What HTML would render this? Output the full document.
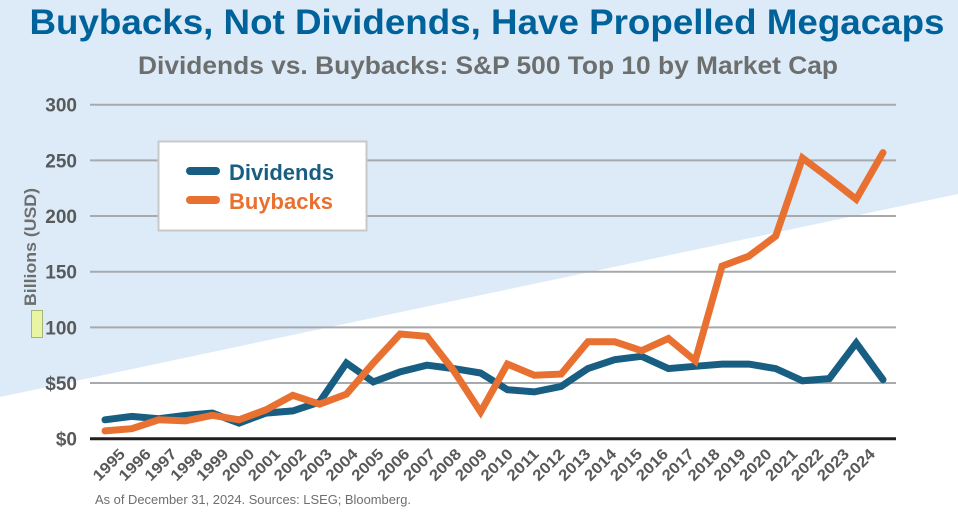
<!DOCTYPE html>
<html><head><meta charset="utf-8"><style>
html,body{margin:0;padding:0;background:#fff;}
svg{display:block;font-family:"Liberation Sans",sans-serif;}
</style></head><body>
<svg id="chart" width="958" height="513" viewBox="0 0 958 513">
<rect x="0" y="0" width="958" height="513" fill="#ffffff"/>
<polygon points="0,0 958,0 958,194 0,397" fill="#ddebf8"/>
<text x="487" y="34" text-anchor="middle" font-size="35" font-weight="bold" fill="#00629a" textLength="915" lengthAdjust="spacingAndGlyphs">Buybacks, Not Dividends, Have Propelled Megacaps</text>
<text x="488" y="74" text-anchor="middle" font-size="25" font-weight="bold" fill="#6d6e6e" textLength="700" lengthAdjust="spacingAndGlyphs">Dividends vs. Buybacks: S&amp;P 500 Top 10 by Market Cap</text>
<g id="grid"></g>
<g id="yticks"></g>
<text transform="translate(36,247) rotate(-90)" text-anchor="middle" font-size="17" font-weight="bold" fill="#6d6e6e" textLength="118" lengthAdjust="spacingAndGlyphs">Billions (USD)</text>
<rect x="31.5" y="310.5" width="11" height="27" fill="#e8f5a3" stroke="#a9b47a" stroke-width="1"/>
<g id="xticks"></g>
<g id="series"></g>
<g>
<rect x="158.5" y="141.5" width="208" height="89" fill="#fff" stroke="#c8c8c8" stroke-width="2"/>
<line x1="190" y1="171" x2="216" y2="171" stroke="#175e82" stroke-width="8" stroke-linecap="round"/>
<text x="229" y="180" font-size="22" font-weight="bold" fill="#175e82">Dividends</text>
<line x1="190" y1="200" x2="216" y2="200" stroke="#e87131" stroke-width="8" stroke-linecap="round"/>
<text x="229" y="209" font-size="22" font-weight="bold" fill="#e87131">Buybacks</text>
</g>
<text x="95" y="504" font-size="13" fill="#6d6e6e" textLength="316" lengthAdjust="spacingAndGlyphs">As of December 31, 2024. Sources: LSEG; Bloomberg.</text>
</svg>
<script>
const years = [1995,1996,1997,1998,1999,2000,2001,2002,2003,2004,2005,2006,2007,2008,2009,2010,2011,2012,2013,2014,2015,2016,2017,2018,2019,2020,2021,2022,2023,2024];
const dividends = [17,20,18,21,23,14,23,25,33,68,51,60,66,63,59,44,42,47,63,71,74,63,65,67,67,63,52,54,86,53];
const buybacks = [7,9,17,16,21,17,26,39,31,40,68,94,92,61,24,67,57,58,87,87,79,90,70,155,164,182,252,234,215,257];
const yTicks = [0,50,100,150,200,250,300];
const yTickLabels = ['$0','$50','100','150','200','250','300'];

const NS='http://www.w3.org/2000/svg';
const X0=90, X1=896, Y0=438.7, Y1=104.7;
const xFirst=105, xLast=883;
function xs(i){return xFirst+(xLast-xFirst)*i/(years.length-1);}
function xl(i){return 126+(876-126)*i/(years.length-1);}
function ys(v){return Y0-(v/300)*(Y0-Y1);}
function mk(tag,attrs,parent){const e=document.createElementNS(NS,tag);for(const k in attrs)e.setAttribute(k,attrs[k]);parent.appendChild(e);return e;}

const grid=document.getElementById('grid');
const yt=document.getElementById('yticks');
yTicks.forEach((v,i)=>{
  const l=mk('line',{x1:X0,x2:X1,y1:ys(v),y2:ys(v),stroke:v===0?'#231f20':'#a7a9ac','stroke-width':v===0?3:2},grid);
  
  
  const t=mk('text',{x:77,y:ys(v)+7,'text-anchor':'end','font-size':19,'font-weight':'bold',fill:'#58595b'},yt);
  t.textContent=yTickLabels[i];
  
  
});
const xt=document.getElementById('xticks');
years.forEach((yr,i)=>{
  const x=xl(i), y=455;
  const t=mk('text',{x:x,y:y,'text-anchor':'end','font-size':15.5,'font-weight':'bold',fill:'#58595b',textLength:38,lengthAdjust:'spacingAndGlyphs',transform:`rotate(-45 ${x} ${y})`},xt);
  t.textContent=yr;
  
  
});
const sg=document.getElementById('series');
function line(data,color,name){
  const pts=data.map((v,i)=>xs(i).toFixed(1)+','+ys(v).toFixed(1)).join(' ');
  const p=mk('polyline',{points:pts,fill:'none',stroke:color,'stroke-width':7,'stroke-linejoin':'miter','stroke-miterlimit':2,'stroke-linecap':'round'},sg);
  
  
}
line(dividends,'#175e82','dividends-line');
line(buybacks,'#e87131','buybacks-line');
</script>
</body></html>
